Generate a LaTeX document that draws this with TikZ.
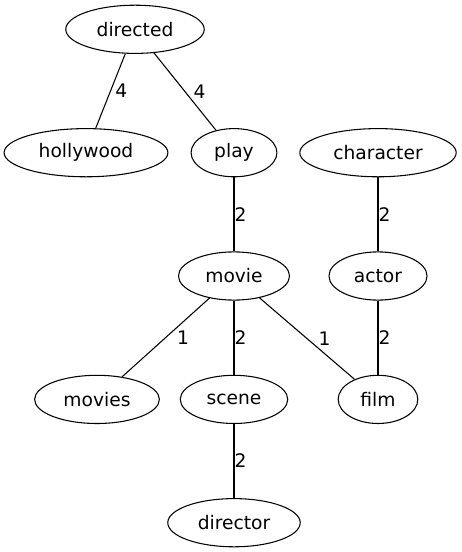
\documentclass[tikz,border=0pt]{standalone}
\usepackage{fontspec}
\setmainfont{DejaVu Sans}
\usetikzlibrary{shapes.geometric}
\tikzset{
  word/.style={draw, ellipse, inner xsep=0.11in, inner ysep=0.055in,
    minimum width=0.75in, minimum height=0.5in, font=\fontsize{14}{17}\selectfont},
  weight/.style={right, inner sep=0pt, font=\fontsize{14}{17}\selectfont},
}
\begin{document}
\begin{tikzpicture}[x=0.75pt, y=-0.75pt, line width=0.8pt]
\useasboundingbox (0,0) rectangle (461,552);
% words, one row per rank
\node[word] (directed) at (135,29.3) {directed};
\node[word] (hollywood) at (86,152.7) {hollywood};
\node[word] (play) at (234,152.7) {play};
\node[word] (character) at (378,152.7) {character};
\node[word] (movie) at (234,276) {movie};
\node[word] (actor) at (378,276) {actor};
\node[word] (movies) at (97,399.4) {movies};
\node[word] (scene) at (234,399.4) {scene};
\node[word] (film) at (378,399.4) {film};
\node[word] (director) at (234,522.7) {director};

% weighted links
\draw (directed) -- (hollywood) node[pos=.5, weight, xshift=3.2pt]{4};
\draw (directed) -- (play) node[pos=.5, weight, xshift=6pt]{4};
\draw (play) -- (movie) node[pos=.5, weight]{2};
\draw (character) -- (actor) node[pos=.5, weight]{2};
\draw (movie) -- (movies) node[pos=.5, weight, xshift=8.2pt]{1};
\draw (movie) -- (scene) node[pos=.5, weight]{2};
\draw (movie) -- (film) node[pos=.5, weight, xshift=8.2pt]{1};
\draw (actor) -- (film) node[pos=.5, weight]{2};
\draw (scene) -- (director) node[pos=.5, weight]{2};
\end{tikzpicture}
\end{document}
